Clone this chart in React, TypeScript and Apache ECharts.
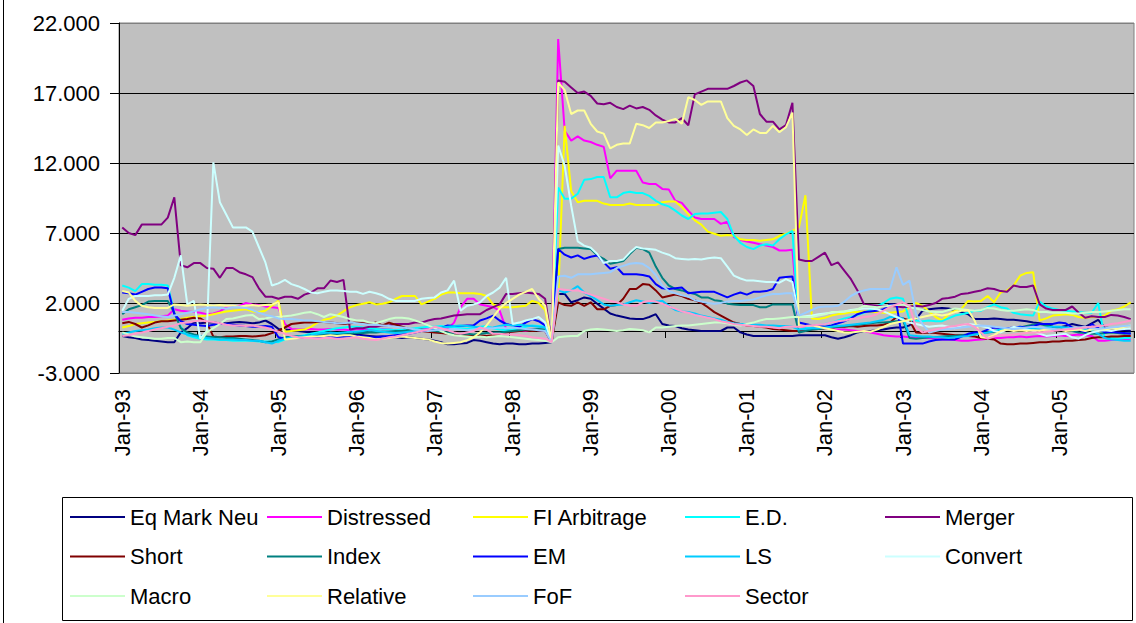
import React, { useEffect, useRef } from 'react';
import * as echarts from 'echarts';

const FONT = '"Liberation Sans", Arial, Helvetica, sans-serif';

// Monthly categories, Jan-93 .. Dec-05
const MONTHS = ['Jan', 'Feb', 'Mar', 'Apr', 'May', 'Jun', 'Jul', 'Aug', 'Sep', 'Oct', 'Nov', 'Dec'];
const YEARS = ['93', '94', '95', '96', '97', '98', '99', '00', '01', '02', '03', '04', '05'];
const categories = YEARS.flatMap((y) => MONTHS.map((m) => `${m}-${y}`));

// Y axis range and step
const Y_MIN = -3;
const Y_MAX = 22;
const Y_STEP = 5;

// One row per year (Jan..Dec)
const eqMarkNeu = [
  -0.35, -0.45, -0.5, -0.6, -0.65, -0.7, -0.75, -0.8, -0.8, -0.1, 0.2, 0.6,
  0.55, 0.6, 0.6, 0.55, 0.55, 0.6, 0.65, 0.6, 0.55, 0.6, 0.75, 0.5,
  0.15, 0.1, 0.05, 0.0, -0.05, -0.1, -0.15, -0.2, -0.25, -0.25, -0.3, -0.3,
  -0.25, -0.3, -0.35, -0.4, -0.4, -0.45, -0.45, -0.5, -0.45, -0.5, -0.55, -0.6,
  -0.7, -0.8, -0.95, -0.95, -0.9, -0.85, -0.65, -0.7, -0.8, -0.9, -0.95, -0.9,
  -0.9, -0.95, -0.95, -0.9, -0.9, -0.85, -0.8, 2.65, 2.65, 2.05, 2.2, 2.4,
  2.3, 1.95, 1.6, 1.25, 1.1, 1.0, 0.9, 0.85, 0.85, 1.0, 1.2, 0.5,
  0.4, 0.35, 0.2, 0.1, 0.05, 0.0, 0.0, 0.0, 0.0, 0.25, 0.25, -0.1,
  -0.25, -0.35, -0.35, -0.35, -0.35, -0.35, -0.35, -0.35, -0.3, -0.3, -0.3, -0.3,
  -0.3, -0.45, -0.55, -0.45, -0.3, -0.1, 0.0, 0.0, 0.05, 0.1, 0.2, 0.25,
  0.25, 0.4, 0.85, 1.45, 1.55, 1.6, 1.65, 1.6, 1.5, 1.35, 1.2, 0.85,
  0.85, 0.85, 0.9, 0.85, 0.8, 0.8, 0.75, 0.7, 0.6, 0.55, 0.45, 0.3,
  0.25, 0.35, 0.5, 0.4, 0.3, 0.55, 0.8, 0.25, 0.2, 0.1, 0.05, 0.0,
];

const distressed = [
  0.8, 0.9, 0.95, 0.95, 1.0, 1.0, 1.05, 1.1, 1.55, 1.45, 1.4, 1.35,
  1.3, 1.2, 1.25, 1.4, 1.7, 1.75, 1.8, 2.0, 1.9, 1.85, 1.75, 1.7,
  1.65, 0.5, 0.15, 0.1, 0.1, 0.15, 0.1, 0.1, 0.15, 0.1, 0.1, 0.05,
  0.15, 0.1, 0.05, 0.1, 0.15, 0.1, 0.05, 0.0, 0.05, 0.1, 0.1, 0.15,
  0.1, 0.1, 0.15, 0.6, 1.7, 2.3, 2.3, 1.9, 1.8, 1.7, 1.45, 0.15,
  0.0, 0.05, 0.0, 0.1, 0.05, 0.0, -0.8, 20.85, 14.3, 13.6, 13.9, 13.6,
  13.5, 13.3, 13.15, 10.9, 11.45, 11.45, 11.45, 11.45, 10.6, 10.5, 10.5, 10.15,
  10.1, 9.3, 9.15, 8.6, 8.1, 8.0, 8.0, 8.0, 7.65, 7.8, 6.7, 6.5,
  6.4, 6.3, 6.2, 6.1, 6.0, 5.75, 5.75, 5.8, 0.3, 0.25, 0.2, 0.2,
  0.2, 0.15, 0.1, 0.1, 0.05, 0.0, 0.0, -0.1, -0.2, -0.3, -0.35, -0.4,
  -0.4, -0.45, -0.45, -0.5, -0.5, -0.55, -0.6, -0.6, -0.65, -0.7, -0.7, -0.65,
  -0.6, -0.55, -0.5, -0.5, -0.45, -0.45, -0.4, -0.45, -0.4, -0.35, -0.4, -0.35,
  -0.3, -0.35, -0.3, -0.25, -0.3, -0.35, -0.7, -0.7, -0.65, -0.6, -0.6, -0.55,
];

const fiArbitrage = [
  0.25, 0.35, 0.5, 0.55, 0.6, 0.65, 0.7, 0.75, 0.8, 0.85, 0.95, 1.0,
  1.05, 1.1, 1.2, 1.3, 1.4, 1.45, 1.5, 1.55, 1.4, 1.35, 1.45, 1.8,
  2.15, -0.05, 0.0, 0.05, 0.1, 0.3, 0.6, 0.8, 0.9, 1.1, 1.4, 1.7,
  1.85, 1.95, 2.05, 1.9, 1.95, 2.05, 2.3, 2.5, 2.5, 2.5, 1.9, 2.1,
  2.3, 2.6, 2.75, 2.75, 2.7, 2.7, 2.7, 2.65, 2.5, 1.9, 1.7, 1.7,
  1.7, 1.75, 1.8, 2.15, 2.0, 1.5, -0.8, 2.5, 14.65, 10.0, 9.2, 9.3,
  9.3, 9.3, 9.1, 9.0, 9.0, 9.0, 9.1, 9.0, 9.0, 9.0, 9.0, 9.2,
  9.25, 9.25, 8.85, 8.35, 7.9, 7.6, 7.1, 6.95, 6.8, 6.85, 6.8, 6.55,
  6.5, 6.5, 6.45, 6.5, 6.55, 6.8, 6.95, 7.15, 7.4, 9.7, 0.9, 0.85,
  0.95, 1.1, 1.2, 1.25, 1.35, 1.35, 1.4, 1.35, 1.35, 1.3, 1.3, 1.35,
  1.4, 1.7, 2.0, 1.8, 1.4, 1.0, 0.75, 1.2, 1.45, 1.6, 2.15, 2.1,
  2.15, 2.5, 2.05, 2.75, 2.9, 3.25, 3.95, 4.15, 4.2, 0.75, 0.9, 1.1,
  1.15, 1.2, 1.15, 1.0, 0.95, 1.0, 1.0, 1.1, 1.45, 1.55, 1.75, 2.05,
];

const ed = [
  3.25, 3.1, 2.85, 3.35, 3.35, 3.3, 3.3, 3.25, 1.3, 0.3, -0.3, -0.45,
  -0.55, -0.6, -0.6, -0.65, -0.65, -0.7, -0.7, -0.7, -0.7, -0.75, -0.75, -0.75,
  -0.8, -0.6, -0.5, -0.4, -0.3, -0.2, -0.1, 0.0, 0.1, 0.2, 0.25, 0.3,
  0.3, 0.25, 0.2, 0.15, 0.1, 0.1, 0.05, 0.1, 0.15, 0.2, 0.25, 0.3,
  0.3, 0.35, 0.3, 0.25, 0.2, 0.15, 0.2, 0.3, 0.35, 0.2, 0.1, 0.05,
  0.1, 0.2, 0.3, 0.4, 0.35, 0.3, -0.8, 10.25, 9.45, 9.45, 9.8, 10.8,
  10.85, 11.0, 11.0, 9.55, 9.55, 9.85, 9.95, 9.85, 9.85, 9.65, 9.3, 9.05,
  8.9, 8.6, 8.25, 8.0, 8.35, 8.4, 8.4, 8.45, 8.5, 8.0, 6.8, 6.3,
  6.0, 5.85, 6.1, 6.2, 6.1, 6.55, 6.9, 7.15, 0.1, 0.2, 0.3, 0.4,
  0.5, 0.6, 0.75, 0.9, 1.0, 1.15, 1.3, 1.5, 1.75, 2.0, 2.3, 2.4,
  2.3, 0.8, 0.75, 0.7, 0.75, 0.7, 0.7, 0.9, 1.1, 1.2, 1.3, 1.45,
  1.45, 1.7, 1.9, 1.7, 1.6, 1.3, 1.2, 1.15, 1.1, 2.1, 1.75, 1.6,
  1.5, 1.45, 1.4, 1.35, 1.3, 1.3, 2.0, -0.5, -0.5, -0.55, -0.5, -0.5,
];

const merger = [
  7.4, 7.0, 6.85, 7.6, 7.6, 7.6, 7.6, 8.1, 9.55, 4.7, 4.55, 4.85,
  4.85, 4.5, 4.45, 3.8, 4.5, 4.5, 4.2, 4.05, 3.85, 3.05, 2.45, 2.45,
  2.3, 2.45, 2.45, 2.3, 2.6, 2.75, 3.05, 3.05, 3.6, 3.5, 3.65, 0.1,
  0.2, 0.2, 0.3, 0.3, 0.4, 0.4, 0.5, 0.5, 0.5, 0.6, 0.6, 0.75,
  0.85, 0.9, 1.0, 1.1, 1.15, 1.2, 1.2, 1.2, 1.5, 1.7, 1.9, 2.65,
  2.65, 2.7, 2.75, 2.7, 2.65, 2.3, -0.8, 17.9, 17.8, 17.4, 17.0, 17.1,
  16.8, 16.25, 16.2, 16.3, 16.0, 15.85, 16.1, 15.9, 16.0, 15.8, 15.4, 15.1,
  14.9, 14.9, 15.2, 14.7, 16.9, 17.1, 17.3, 17.3, 17.3, 17.3, 17.5, 17.75,
  17.9, 17.5, 15.5, 14.95, 14.95, 14.4, 14.7, 16.3, 5.1, 5.0, 5.0, 5.3,
  5.6, 4.7, 4.9, 4.3, 3.7, 2.9, 1.9, 1.85, 1.8, 1.75, 1.8, 1.75,
  1.7, 1.75, 1.8, 1.75, 1.85, 2.0, 2.3, 2.35, 2.45, 2.65, 2.7, 2.8,
  2.9, 3.05, 3.0, 2.85, 2.8, 3.25, 3.15, 3.15, 3.25, 1.9, 1.6, 1.5,
  1.5, 1.5, 1.75, 1.3, 0.95, 1.05, 1.0, 1.0, 1.15, 1.1, 1.0, 0.85,
];

const short = [
  0.55, 0.65, 0.5, 0.25, 0.4, 0.6, 0.7, 0.7, 0.75, 0.8, 0.85, 0.95,
  0.9, 0.6, -0.4, -0.45, -0.4, -0.4, -0.35, -0.35, -0.4, -0.35, -0.3, -0.15,
  0.0, 0.25, 0.5, 0.55, 0.6, 0.6, 0.65, 0.65, 0.6, 0.55, 0.5, 0.55,
  0.6, 0.55, 0.5, 0.6, 0.4, 0.6, 0.45, 0.3, 0.15, 0.05, 0.0, -0.05,
  -0.1, -0.15, -0.2, -0.2, -0.25, -0.3, -0.35, -0.3, -0.35, -0.3, -0.2, -0.1,
  -0.05, 0.0, 0.05, 0.0, 0.05, 0.0, -0.8, 2.05, 1.85, 1.8, 2.05, 1.8,
  2.05, 1.55, 1.55, 1.8, 1.85, 2.3, 3.0, 3.0, 3.35, 3.3, 2.9, 2.4,
  2.5, 2.6, 2.5, 2.3, 2.2, 2.0, 1.7, 1.35, 1.1, 0.85, 0.6, 0.5,
  0.4, 0.35, 0.3, 0.25, 0.15, 0.1, 0.05, 0.0, 0.0, 0.05, 0.1, 0.15,
  0.2, 0.25, 0.3, 0.3, 0.35, 0.3, 0.35, 0.4, 0.4, 0.45, 0.6, 1.0,
  0.9, 0.75, -0.1, -0.15, -0.1, -0.15, -0.2, -0.25, -0.3, -0.3, -0.35, -0.4,
  -0.5, -0.55, -0.6, -0.9, -0.95, -0.95, -0.9, -0.9, -0.85, -0.8, -0.8, -0.75,
  -0.75, -0.7, -0.7, -0.65, -0.6, -0.5, -0.45, -0.45, -0.4, -0.4, -0.35, -0.35,
];

const index = [
  1.2, 1.55, 1.7, 1.85, 2.1, 2.15, 2.15, 2.15, 1.3, 0.2, -0.1, -0.25,
  -0.35, -0.4, -0.45, -0.45, -0.5, -0.5, -0.55, -0.6, -0.65, -0.7, -0.8, -0.75,
  -0.6, -0.45, -0.4, -0.35, -0.35, -0.3, -0.3, -0.25, -0.3, -0.25, -0.2, -0.2,
  -0.15, -0.15, -0.1, -0.1, -0.05, -0.05, 0.0, 0.0, 0.05, 0.05, 0.1, 0.05,
  0.0, -0.05, -0.1, -0.15, -0.2, -0.2, -0.25, -0.2, -0.15, -0.1, -0.1, -0.05,
  0.0, 0.05, 0.1, 0.1, 0.15, 0.1, -0.8, 5.85, 5.95, 5.95, 5.95, 5.9,
  5.85, 5.4, 5.15, 4.8, 4.9, 5.0, 5.5, 5.95, 5.85, 5.6, 4.6, 3.8,
  3.25, 3.0, 2.9, 2.75, 2.65, 2.4, 2.4, 2.2, 2.15, 1.95, 1.9, 1.85,
  1.85, 1.85, 1.7, 1.7, 1.9, 1.9, 1.9, 1.9, -0.1, 0.0, 0.1, 0.15,
  0.2, 0.25, 0.3, 0.35, 0.4, 0.45, 0.5, 0.55, 0.6, 0.6, 0.65, 0.7,
  0.75, -0.5, -0.55, -0.5, -0.45, -0.45, -0.4, -0.35, -0.35, -0.3, -0.25, -0.2,
  -0.15, -0.1, -0.05, 0.0, 0.1, 0.2, 0.25, 0.35, 0.45, 0.5, 0.4, 0.3,
  0.2, 0.1, 0.0, -0.1, -0.15, -0.2, -0.2, -0.15, -0.1, -0.15, -0.2, -0.15,
];

const em = [
  2.75, 2.7, 2.6, 2.8, 3.0, 3.1, 3.1, 3.05, 1.2, 0.7, 0.5, 0.45,
  0.4, 0.35, 0.45, 0.5, 0.5, 0.45, 0.4, 0.35, 0.3, 0.3, 0.35, 0.3,
  -0.45, -0.55, -0.5, -0.5, -0.5, -0.45, -0.45, -0.4, -0.4, -0.45, -0.4, -0.35,
  -0.35, -0.4, -0.45, -0.45, -0.4, -0.35, -0.3, -0.25, -0.2, -0.1, 0.0, 0.05,
  0.1, 0.2, 0.4, 0.35, 0.35, 0.4, 0.4, 0.75, 0.9, 1.1, 0.75, 0.5,
  0.4, 0.3, 0.6, 0.85, 0.7, 0.4, -0.8, 5.85, 5.45, 5.25, 5.4, 5.15,
  5.3, 5.4, 4.9, 4.45, 4.55, 4.05, 4.05, 4.05, 4.0, 3.9, 3.35, 3.05,
  3.0, 3.05, 3.1, 2.7, 2.75, 2.8, 2.8, 2.8, 2.6, 2.4, 2.6, 2.75,
  2.6, 2.8, 2.8, 2.85, 3.0, 3.8, 3.85, 3.9, 0.6, 0.5, 0.4, 0.35,
  0.3, 0.4, 0.55, 0.7, 0.9, 1.2, 1.35, 1.4, 1.45, 1.55, 1.9, 1.9,
  -0.9, -0.9, -0.9, -0.9, -0.75, -0.65, -0.6, -0.6, -0.6, -0.4, -0.2, -0.1,
  -0.1, 0.1, 0.25, 0.2, 0.2, 0.25, 0.3, 0.25, 0.35, 0.5, 0.5, 0.5,
  0.6, 0.55, 0.25, 0.1, -0.1, 0.5, 0.2, -0.1, -0.05, -0.1, -0.15, -0.2,
];

const ls = [
  -0.2, -0.1, 0.0, 0.05, 0.1, 0.2, 0.25, 0.25, 0.1, -0.1, -0.25, -0.35,
  -0.4, -0.5, -0.55, -0.6, -0.6, -0.6, -0.65, -0.65, -0.7, -0.7, -0.8, -0.9,
  -0.7, -0.55, -0.45, -0.4, -0.35, -0.3, -0.2, -0.15, -0.1, -0.15, -0.1, -0.05,
  -0.05, 0.0, 0.05, 0.0, -0.05, -0.1, -0.15, -0.1, -0.05, 0.0, 0.05, 0.1,
  0.2, 0.25, 0.3, 0.35, 0.4, 0.35, 0.3, 0.25, 0.2, 0.25, 0.35, 0.45,
  0.4, 0.45, 0.4, 0.35, 0.3, 0.25, -0.8, 2.9, 2.75, 2.9, 3.2, 2.75,
  2.5, 2.2, 1.9, 1.8, 1.85, 1.9, 2.05, 2.2, 2.1, 2.0, 2.1, 2.15,
  1.8, 1.5, 1.4, 1.35, 1.25, 1.1, 1.0, 0.9, 0.8, 0.65, 0.55, 0.5,
  0.5, 0.45, 0.45, 0.4, 0.4, 0.35, 0.35, 0.3, 0.1, 0.15, 0.2, 0.2,
  0.25, 0.3, 0.35, 0.4, 0.45, 0.5, 0.55, 0.6, 0.7, 0.8, 1.0, 1.0,
  0.9, -0.3, -0.35, -0.4, -0.4, -0.45, -0.45, -0.5, -0.45, -0.4, -0.35, -0.25,
  -0.2, -0.1, 0.0, 0.1, 0.15, 0.2, 0.25, 0.2, 0.15, 0.2, 0.25, 0.3,
  0.3, 0.25, 0.2, 0.15, 0.1, 0.05, -0.2, -0.5, -0.6, -0.65, -0.7, -0.7,
];

const convert = [
  1.45, 2.3, 2.5, 2.5, 2.5, 2.55, 2.55, 2.6, 3.8, 5.4, 1.9, 2.15,
  -0.55, 0.0, 12.05, 9.2, 8.3, 7.4, 7.4, 7.4, 7.1, 6.0, 4.9, 3.25,
  3.4, 3.65, 3.35, 3.2, 3.0, 2.75, 2.7, 2.8, 2.9, 2.9, 2.85, 2.8,
  2.8, 2.65, 2.8, 2.7, 2.55, 2.3, 2.15, 2.15, 2.15, 2.15, 2.3, 2.35,
  2.4, 2.75, 2.9, 3.6, 1.45, 1.8, 1.9, 2.05, 2.5, 2.75, 3.1, 3.8,
  0.5, 0.6, 0.75, 0.85, 1.0, 0.6, -0.8, 13.25, 11.8, 8.95, 6.4, 6.1,
  5.95, 5.5, 4.85, 5.0, 5.0, 5.1, 5.6, 6.0, 5.9, 5.85, 5.8, 5.6,
  5.45, 5.2, 5.15, 5.1, 5.15, 5.1, 5.2, 5.25, 5.2, 4.6, 3.95, 3.75,
  3.6, 3.6, 3.55, 3.5, 3.5, 3.45, 3.7, 3.5, 1.0, 1.05, 1.1, 1.2,
  1.25, 1.3, 1.35, 1.4, 1.5, 1.55, 1.6, 1.6, 1.55, 1.4, 1.2, 1.0,
  0.8, 0.6, 0.5, 0.4, 0.3, 0.35, 0.4, 0.3, 0.2, 0.4, 0.5, 0.45,
  0.35, 0.25, 0.0, -0.1, 0.1, 0.3, 0.2, 0.1, 0.0, -0.2, -0.35, -0.3,
  -0.25, -0.2, -0.45, -0.55, -0.3, -0.1, 0.0, 0.05, 0.0, 0.1, 0.15, 0.2,
];

const macro = [
  -0.1, -0.25, -0.4, -0.45, -0.5, -0.55, -0.55, -0.5, -0.5, -0.8, -0.75, -0.8,
  -0.8, -0.1, 0.2, 0.5, 0.85, 0.9, 1.0, 1.1, 1.15, 0.85, 0.9, 1.0,
  1.0, 1.05, 1.1, 1.2, 1.3, 1.35, 1.2, 1.0, 1.2, 1.1, 1.0, 0.85,
  0.75, 0.75, 0.6, 0.55, 0.7, 0.85, 0.95, 0.95, 0.9, 0.75, 0.6, 0.4,
  0.2, 0.0, -0.2, -0.3, -0.35, -0.4, -0.45, -0.4, -0.45, -0.4, -0.35, -0.4,
  -0.45, -0.5, -0.55, -0.6, -0.65, -0.7, -0.8, -0.45, -0.4, -0.35, -0.35, 0.0,
  0.1, 0.15, 0.1, 0.05, 0.0, 0.05, 0.15, 0.1, 0.05, -0.1, 0.25, 0.25,
  0.3, 0.35, 0.4, 0.4, 0.45, 0.5, 0.55, 0.6, 0.6, 0.55, 0.45, 0.4,
  0.5, 0.6, 0.75, 0.85, 0.85, 0.9, 0.95, 1.0, 1.0, 1.0, 1.0, 1.1,
  1.2, 1.35, 1.35, 1.4, 1.45, 1.55, 1.8, 1.75, 1.7, 1.75, 1.8, 1.85,
  1.9, 1.7, 1.6, 1.5, 1.4, 1.35, 1.35, 1.5, 1.6, 1.55, 1.5, 1.45,
  1.5, 1.65, 1.6, 1.5, 1.45, 1.45, 1.5, 1.55, 1.5, 1.35, 1.35, 1.3,
  1.3, 1.3, 1.25, 1.25, 1.3, 1.35, 1.35, 1.4, 1.45, 1.5, 1.55, 1.55,
];

const relative = [
  2.85, 2.75, 2.15, 1.8, 1.7, 1.65, 1.65, 1.65, 1.9, 1.85, 1.8, 1.85,
  1.9, 1.85, 1.8, 1.85, 1.8, 1.8, 1.75, 1.8, 1.85, 1.8, 1.85, 1.9,
  2.05, -0.6, -0.55, -0.5, -0.45, -0.4, -0.4, -0.35, -0.3, -0.35, -0.3, -0.3,
  -0.4, -0.45, -0.5, -0.6, -0.55, -0.5, -0.45, -0.4, -0.45, -0.5, -0.55, -0.6,
  -0.75, -0.85, -0.9, -0.85, -0.8, -0.65, -0.45, -0.1, 0.4, 1.0, 1.6, 2.0,
  2.3, 2.6, 2.8, 3.0, 2.3, 1.8, -0.8, 17.75, 17.2, 15.5, 15.75, 15.75,
  14.8, 14.25, 14.1, 13.05, 13.3, 13.4, 13.4, 14.8, 14.7, 14.5, 14.9, 14.9,
  15.0, 15.15, 14.8, 16.7, 16.5, 16.15, 16.4, 16.4, 16.4, 15.2, 14.65, 14.4,
  14.0, 14.4, 14.15, 14.15, 14.65, 14.2, 14.55, 15.6, 0.3, 0.35, 0.4, 0.3,
  0.2, 0.1, 0.0, -0.1, -0.1, -0.05, 0.0, -0.05, 0.1, 0.3, 0.5, 0.6,
  0.7, 0.8, 0.9, 1.0, 1.1, 1.2, 1.1, 1.2, 1.35, 1.45, 1.5, 0.75,
  -0.45, -0.5, -0.3, 0.0, 0.1, 0.0, 0.05, 0.0, 0.05, 0.0, 0.1, 0.05,
  0.1, 0.0, 0.05, 0.1, 0.0, 0.1, 0.15, 0.1, 0.2, 0.15, 0.3, 0.4,
];

const fof = [
  1.35, 1.35, 1.3, 1.25, 1.2, 1.1, 1.05, 1.0, 1.1, 1.2, 1.3, 1.4,
  1.55, 1.65, 1.7, 1.65, 1.6, 1.7, 1.7, 1.65, 1.5, 1.3, 1.15, 1.05,
  0.9, 0.85, 0.85, 0.8, 0.75, 0.75, 0.7, 0.65, 0.6, 0.55, 0.55, 0.6,
  0.55, 0.5, 0.45, 0.45, 0.4, 0.35, 0.3, 0.25, 0.2, 0.1, 0.05, 0.0,
  0.05, 0.1, 0.1, 0.15, 0.1, 0.05, 0.1, 0.15, 0.2, 0.2, 0.25, 0.2,
  0.25, 0.2, 0.15, 0.1, 0.05, 0.0, -0.8, 3.9, 3.95, 3.8, 4.05, 4.05,
  4.05, 4.1, 4.15, 4.2, 4.5, 4.65, 4.8, 4.85, 4.8, 4.5, 4.0, 3.25,
  2.85, 2.7, 2.55, 2.45, 2.2, 2.1, 2.0, 1.95, 2.0, 2.1, 2.15, 2.15,
  2.2, 2.25, 2.4, 2.55, 2.65, 2.65, 2.7, 2.7, 1.1, 1.3, 1.5, 1.7,
  1.75, 1.75, 1.8, 2.1, 2.5, 2.75, 2.9, 3.0, 3.0, 3.0, 3.0, 4.55,
  3.3, 3.6, 1.2, 0.5, -0.1, 0.0, 0.1, 0.15, 0.2, 0.25, 0.3, 0.35,
  0.4, 0.35, 0.3, 0.25, 0.2, 0.15, 0.2, 0.25, 0.3, 0.25, 0.2, 0.15,
  0.1, 0.15, 0.2, 0.25, 0.3, 0.2, 0.15, 0.2, 0.25, 0.3, 0.35, 0.4,
];

const sector = [
  -0.35, -0.3, -0.2, -0.1, 0.0, 0.1, 0.2, 0.3, 0.4, 0.55, 0.6, 0.7,
  0.75, 0.7, 0.65, 0.55, 0.45, 0.4, 0.4, 0.35, 0.4, 0.3, 0.25, 0.1,
  -0.05, -0.2, -0.35, -0.45, -0.5, -0.5, -0.55, -0.5, -0.5, -0.55, -0.55, -0.5,
  -0.45, -0.55, -0.6, -0.65, -0.55, -0.45, -0.4, -0.3, -0.2, -0.1, 0.0, 0.1,
  0.3, 0.2, 0.05, -0.1, -0.2, -0.1, 0.0, 0.25, 0.1, -0.2, -0.2, -0.25,
  -0.25, -0.3, -0.35, -0.45, -0.5, -0.55, -0.8, 3.0, 2.95, 2.9, 2.9, 2.75,
  2.6, 2.45, 2.3, 2.15, 2.05, 1.9, 1.8, 1.8, 2.05, 2.15, 2.1, 1.95,
  1.75, 1.6, 1.4, 1.3, 1.15, 1.05, 0.95, 0.85, 0.7, 0.6, 0.5, 0.45,
  0.4, 0.35, 0.3, 0.3, 0.25, 0.2, 0.3, 0.3, 0.3, 0.35, 0.4, 0.45,
  0.5, 0.6, 0.7, 0.75, 0.85, 0.9, 1.0, 1.05, 1.2, 1.45, 1.7, 1.9,
  2.05, 1.8, 0.25, -0.1, 0.0, 0.1, 0.2, 0.3, 0.35, 0.45, 0.5, 0.3,
  -0.1, -0.55, -0.4, -0.3, -0.3, -0.25, -0.2, -0.15, -0.1, -0.1, -0.05, 0.0,
  0.05, 0.1, 0.15, 0.2, 0.25, 0.3, 0.35, 0.4, 0.5, 0.55, 0.65, 0.75,
];

const SERIES_NAMES = [
  'Eq Mark Neu', 'Distressed', 'FI Arbitrage', 'E.D.', 'Merger',
  'Short', 'Index', 'EM', 'LS', 'Convert',
  'Macro', 'Relative', 'FoF', 'Sector',
];
const SERIES_DATA = [
  eqMarkNeu, distressed, fiArbitrage, ed, merger,
  short, index, em, ls, convert,
  macro, relative, fof, sector,
];
const SERIES_COLORS = [
  '#000080', '#FF00FF', '#FFFF00', '#00FFFF', '#800080',
  '#800000', '#008080', '#0000FF', '#00CCFF', '#CCFFFF',
  '#CCFFCC', '#FFFF99', '#99CCFF', '#FF99CC',
];

// Legend grid: five columns, three rows, filled left to right
const LEGEND_COLS = [70, 267, 473, 685, 885];
const LEGEND_ROWS = [506, 545.5, 585];

export default function App() {
  const ref = useRef<HTMLDivElement>(null);

  useEffect(() => {
    if (!ref.current) return;
    const chart = echarts.init(ref.current, undefined, { renderer: 'svg' });

    const legends = SERIES_NAMES.map((name, k) => ({
      data: [name],
      left: LEGEND_COLS[k % 5],
      top: LEGEND_ROWS[Math.floor(k / 5)],
      orient: 'horizontal',
      icon: 'rect',
      itemWidth: 55,
      itemHeight: 2,
      padding: 0,
      selectedMode: false,
      textStyle: { fontSize: 22, color: '#000', fontFamily: FONT },
    }));

    const option = {
      animation: false,
      backgroundColor: '#FFFFFF',
      textStyle: { fontFamily: FONT },
      grid: {
        left: 119,
        right: 2,
        top: 23,
        bottom: 250,
        show: true,
        backgroundColor: '#C0C0C0',
        borderColor: '#808080',
        borderWidth: 1,
      },
      xAxis: [
        {
          type: 'category',
          data: categories,
          boundaryGap: true,
          position: 'bottom',
          axisLine: { show: false, onZero: false },
          axisTick: { show: false },
          axisLabel: {
            interval: 11,
            rotate: 90,
            margin: 16,
            fontSize: 22,
            color: '#000',
            fontFamily: FONT,
          },
          splitLine: { show: false },
        },
        {
          type: 'category',
          data: categories,
          boundaryGap: true,
          position: 'bottom',
          axisLine: { show: true, onZero: true, lineStyle: { color: '#000', width: 1 } },
          axisTick: { show: true, interval: 11, length: 7, lineStyle: { color: '#000' } },
          axisLabel: { show: false },
          splitLine: { show: false },
        },
      ],
      yAxis: {
        type: 'value',
        min: Y_MIN,
        max: Y_MAX,
        interval: Y_STEP,
        axisLine: { show: true, lineStyle: { color: '#000', width: 1 } },
        axisTick: { show: true, length: 9, lineStyle: { color: '#000' } },
        axisLabel: {
          formatter: (v: number) => v.toFixed(3),
          fontSize: 22,
          color: '#000',
          margin: 19,
          fontFamily: FONT,
        },
        splitLine: {
          show: true,
          lineStyle: { color: ['#808080', '#000', '#000', '#000', '#000', '#808080'], width: 1 },
        },
      },
      legend: legends,
      graphic: [
        {
          type: 'rect',
          silent: true,
          shape: { x: 62.5, y: 497.5, width: 1070, height: 123 },
          style: { fill: 'none', stroke: '#000', lineWidth: 1 },
        },
        {
          type: 'line',
          silent: true,
          shape: { x1: 3.5, y1: 0, x2: 3.5, y2: 623 },
          style: { stroke: '#000', lineWidth: 1 },
        },
      ],
      series: SERIES_NAMES.map((name, k) => ({
        name,
        type: 'line',
        xAxisIndex: 0,
        data: SERIES_DATA[k],
        color: SERIES_COLORS[k],
        showSymbol: false,
        symbol: 'none',
        silent: true,
        lineStyle: { width: 2, color: SERIES_COLORS[k] },
        emphasis: { disabled: true },
      })),
    };

    chart.setOption(option as any);
    return () => chart.dispose();
  }, []);

  return (
    <div
      ref={ref}
      style={{ position: 'absolute', left: 0, top: 0, width: 1136, height: 623 }}
    />
  );
}
